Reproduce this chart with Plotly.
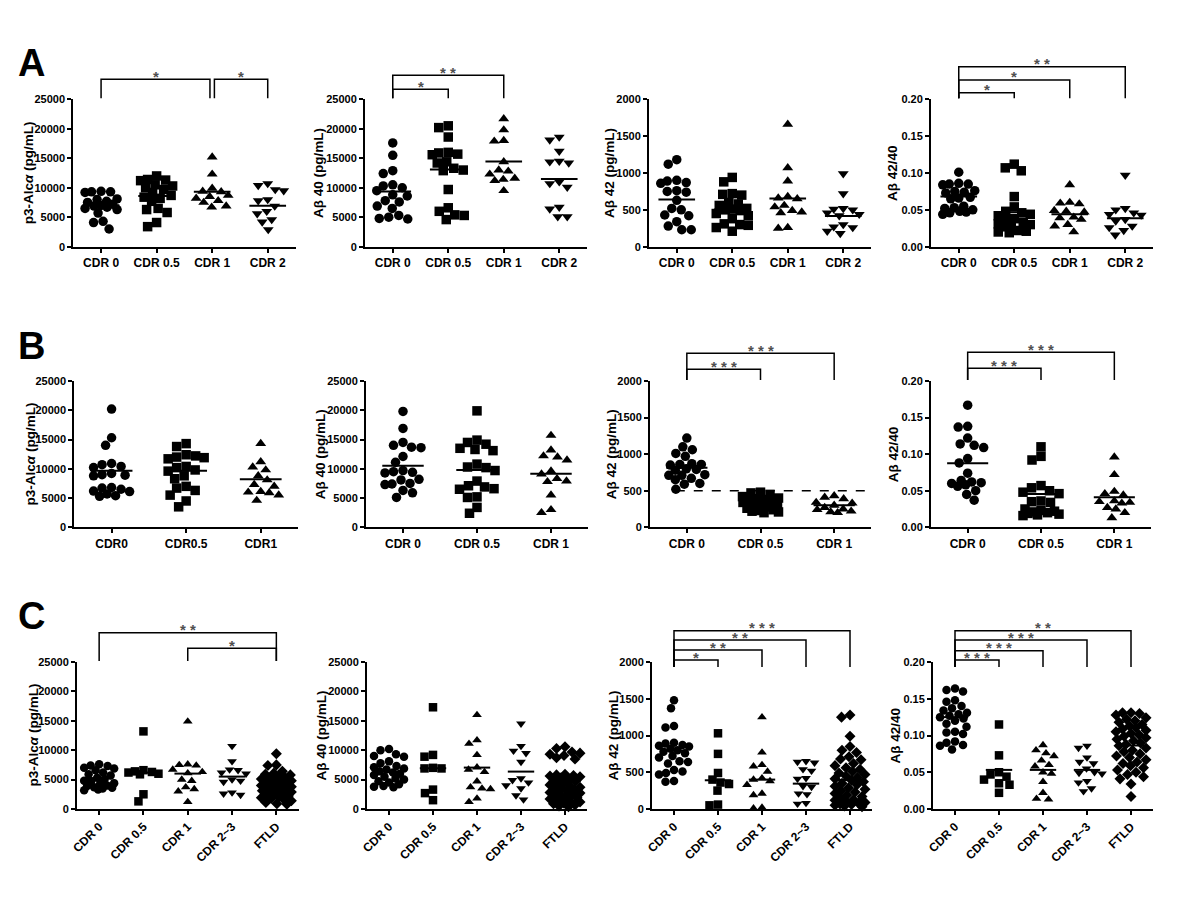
import numpy as np
import plotly.graph_objects as go

# ---------------- data ----------------
CATS_A = ["CDR 0", "CDR 0.5", "CDR 1", "CDR 2"]
CATS_B1 = ["CDR0", "CDR0.5", "CDR1"]
CATS_B = ["CDR 0", "CDR 0.5", "CDR 1"]
CATS_C = ["CDR 0", "CDR 0.5", "CDR 1", "CDR 2~3", "FTLD"]

YT_P3 = "p3-Alc<i>α</i> (pg/mL)"
YT_40 = "Aβ 40 (pg/mL)"
YT_42 = "Aβ 42 (pg/mL)"
YT_R = "Aβ 42/40"

# ---- row A ----
A_p3_cdr0 = [9400, 9300, 9300, 9200, 8100, 8000, 7700, 7500, 7200, 7000, 6900, 6700, 6500, 6300, 5700, 4300, 4100, 3000]
A_p3_cdr05 = [12000, 11400, 11300, 11200, 10500, 10300, 10000, 9700, 9200, 8700, 8400, 8200, 7700, 6500, 6300, 5800, 4100, 3400]
A_p3_cdr1 = [15200, 12300, 9900, 9400, 9300, 8700, 8500, 8200, 7800, 7500, 6900, 6700]
A_p3_cdr2 = [10700, 10400, 9700, 9500, 8000, 7800, 6900, 6000, 5600, 4600, 4200, 2900]
A_p3_center = [7050, 8600, 9300, 6950]

A_40_cdr0 = [17600, 15500, 12900, 12400, 10500, 10300, 10000, 9500, 8800, 8600, 7800, 7600, 6900, 6500, 5300, 5000, 4800, 4700]
A_40_cdr05 = [20500, 20200, 18600, 16000, 15900, 15700, 15600, 14400, 14200, 13000, 12900, 13300, 9700, 6600, 6000, 5400, 5300, 4600]
A_40_cdr1 = [21700, 19800, 18000, 17900, 14400, 13000, 12800, 12300, 11600, 11400, 11200, 9500]
A_40_cdr2 = [18600, 18100, 16200, 14500, 14400, 14200, 11000, 10700, 10100, 6700, 6400, 5100, 5100]
A_40_center = [9350, 13100, 14450, 11500]

A_42_cdr0 = [1180, 1120, 900, 890, 870, 860, 760, 750, 740, 630, 520, 500, 430, 420, 340, 280, 230, 230]
A_42_cdr05 = [940, 880, 720, 710, 700, 600, 580, 560, 520, 510, 500, 490, 450, 420, 380, 310, 300, 290, 260, 210]
A_42_cdr1 = [1660, 1070, 890, 680, 660, 650, 560, 540, 490, 470, 460, 260, 250]
A_42_cdr2 = [990, 720, 520, 510, 500, 460, 440, 420, 300, 270, 260, 210, 180]
A_42_center = [640, 505, 655, 415]

A_r_cdr0 = [0.101, 0.086, 0.085, 0.085, 0.084, 0.076, 0.075, 0.074, 0.073, 0.067, 0.066, 0.065, 0.055, 0.053, 0.052, 0.050, 0.048, 0.047, 0.046, 0.044]
A_r_cdr05 = [0.112, 0.107, 0.103, 0.068, 0.054, 0.048, 0.046, 0.044, 0.042, 0.038, 0.036, 0.033, 0.031, 0.030, 0.029, 0.027, 0.022, 0.021, 0.020, 0.019]
A_r_cdr1 = [0.084, 0.060, 0.059, 0.058, 0.049, 0.048, 0.047, 0.040, 0.039, 0.037, 0.030, 0.028, 0.020]
A_r_cdr2 = [0.097, 0.052, 0.050, 0.046, 0.044, 0.043, 0.037, 0.035, 0.028, 0.026, 0.022, 0.016]
A_r_center = [0.068, 0.0466, 0.044, 0.0385]

# ---- row B ----
B_p3_cdr0 = [20200, 15300, 14000, 10900, 10700, 10400, 10200, 9200, 9000, 8900, 8800, 6800, 6700, 6500, 6200, 6100, 5700, 5400, 5300]
B_p3_cdr05 = [14300, 13800, 12400, 12200, 12000, 11900, 11700, 10400, 10200, 9800, 9600, 8800, 8300, 7000, 6700, 6300, 5500, 4500, 3500]
B_p3_cdr1 = [14300, 11200, 10300, 9800, 8800, 8100, 7300, 7000, 6100, 6000, 5900, 5500, 4600]
B_p3_center = [9680, 9680, 8200]

B_40_cdr0 = [19800, 16900, 14500, 14000, 13700, 13600, 12100, 11100, 9700, 9500, 9400, 9300, 8200, 8100, 7500, 7400, 7300, 6300, 5900, 5100]
B_40_cdr05 = [19900, 14900, 14500, 14200, 13500, 13300, 13100, 10800, 10300, 10200, 9700, 7900, 7100, 6900, 6600, 6500, 5200, 5100, 3400, 2400]
B_40_cdr1 = [15700, 13200, 12200, 12000, 11500, 9600, 9100, 8300, 7900, 7800, 5500, 3000, 2500]
B_40_center = [10530, 9790, 9170]

B_42_cdr0 = [1220, 1100, 1060, 1010, 970, 870, 860, 860, 850, 800, 790, 780, 720, 710, 710, 670, 650, 600, 590, 520]
B_42_cdr05 = [480, 470, 450, 420, 400, 390, 380, 360, 350, 340, 320, 310, 300, 280, 260, 240, 230, 220, 210, 200]
B_42_cdr1 = [430, 410, 390, 340, 330, 300, 270, 250, 240, 220, 210, 200]
B_42_center = [815, 337, 300]
B_42_cutoff = 500

B_r_cdr0 = [0.167, 0.138, 0.137, 0.122, 0.114, 0.112, 0.109, 0.094, 0.088, 0.074, 0.064, 0.062, 0.061, 0.060, 0.058, 0.056, 0.050, 0.045, 0.037]
B_r_cdr05 = [0.110, 0.097, 0.092, 0.057, 0.054, 0.050, 0.048, 0.046, 0.036, 0.035, 0.034, 0.025, 0.023, 0.022, 0.021, 0.020, 0.019, 0.018, 0.017, 0.016]
B_r_cdr1 = [0.096, 0.072, 0.049, 0.046, 0.044, 0.036, 0.035, 0.034, 0.033, 0.027, 0.025, 0.020, 0.013]
B_r_center = [0.0875, 0.0456, 0.041]

# ---- row C ----
C_p3_cdr0 = [7600, 7400, 7300, 7000, 6900, 6600, 6200, 5900, 5700, 5300, 5100, 4800, 4700, 4400, 4300, 4000, 3900, 3700, 3600, 3500, 3300, 3200]
C_p3_cdr05 = [13200, 6600, 6400, 6300, 6200, 6000, 5900, 2500, 1300]
C_p3_cdr1 = [14900, 7600, 7500, 7400, 6700, 6300, 6100, 5000, 4800, 3700, 3400, 3000, 1200]
C_p3_cdr23 = [10700, 8100, 6700, 6600, 6200, 6000, 5000, 4800, 4600, 2800, 2600, 2400]
C_p3_ftld = [9400, 7500, 7400, 6400, 6100, 5900, 5800, 5600, 5400, 5300, 5100, 4900, 4800, 4600, 4500, 4300, 4200,
             4000, 3900, 3800, 3700, 3500, 3400, 3300, 3100, 3000, 2900, 2700, 2600, 2500, 2400, 2200, 2100, 1900,
             1800, 1600, 1400, 1100, 900, 800]
C_p3_center = [5230, 6190, 6020, 5510, 4090]

C_40_cdr0 = [10200, 10000, 9300, 9000, 8900, 8100, 7800, 7300, 7100, 6900, 6700, 6400, 6200, 6000, 5800, 5500, 5200, 5000, 4700, 4500, 4200, 3900, 3800, 3700]
C_40_cdr05 = [17300, 9200, 8900, 7000, 6900, 6900, 3300, 2700, 1500]
C_40_cdr1 = [16000, 11700, 11100, 9200, 7100, 6700, 6300, 4700, 3700, 3500, 3400, 1800, 1200]
C_40_cdr23 = [14500, 10700, 9900, 9500, 8000, 5200, 4900, 4500, 4000, 3500, 2300, 1600]
C_40_ftld = [10600, 10300, 9700, 9500, 9300, 9100, 8700, 8500, 5900, 5800, 5700, 5600, 5500, 5300, 5100, 4900, 4700,
             4500, 4300, 4100, 3900, 3700, 3500, 3300, 3200, 3000, 2800, 2700, 2500, 2300, 2200, 2000, 1900, 1700,
             1500, 1300, 1200, 1000, 900, 700, 500, 400]
C_40_center = [6360, 6930, 7040, 6360, 4545]

C_42_cdr0 = [1480, 1370, 1130, 1110, 900, 890, 870, 860, 850, 820, 800, 780, 760, 720, 700, 650, 640, 620, 530, 510, 490, 470, 380, 370]
C_42_cdr05 = [1030, 750, 490, 400, 360, 340, 250, 60, 50]
C_42_cdr1 = [1250, 770, 600, 580, 510, 420, 400, 380, 330, 210, 190, 20, 10]
C_42_cdr23 = [650, 640, 630, 540, 520, 420, 410, 310, 300, 210, 200, 80, 70]
C_42_ftld = [1280, 1250, 990, 850, 800, 770, 710, 680, 670, 620, 590, 560, 540, 510, 490, 470, 450, 430, 410, 390,
             370, 350, 330, 310, 290, 270, 250, 230, 210, 190, 170, 150, 130, 120, 100, 90, 80, 70, 60, 50, 40, 30]
C_42_center = [795, 391, 400, 345, 395]

C_r_cdr0 = [0.164, 0.162, 0.160, 0.148, 0.146, 0.140, 0.137, 0.134, 0.131, 0.129, 0.127, 0.125, 0.123, 0.120, 0.116, 0.112, 0.105, 0.104, 0.102, 0.092, 0.090, 0.087, 0.086, 0.081]
C_r_cdr05 = [0.115, 0.073, 0.050, 0.047, 0.044, 0.040, 0.035, 0.033, 0.022]
C_r_cdr1 = [0.087, 0.080, 0.076, 0.072, 0.066, 0.060, 0.058, 0.050, 0.048, 0.037, 0.022, 0.014, 0.013]
C_r_cdr23 = [0.086, 0.083, 0.070, 0.064, 0.062, 0.055, 0.050, 0.049, 0.048, 0.038, 0.036, 0.028, 0.024]
C_r_ftld = [0.131, 0.131, 0.130, 0.128, 0.124, 0.122, 0.120, 0.118, 0.115, 0.113, 0.111, 0.109, 0.107, 0.105, 0.103,
            0.101, 0.099, 0.097, 0.095, 0.093, 0.090, 0.088, 0.086, 0.083, 0.080, 0.078, 0.075, 0.072, 0.070, 0.067,
            0.064, 0.062, 0.059, 0.056, 0.053, 0.050, 0.047, 0.044, 0.041, 0.034, 0.017]
C_r_center = [0.125, 0.0532, 0.0532, 0.0532, 0.0864]

# significance brackets: (from group, to group, label)
A_p3_sig = [(0, 2, "*"), (2, 3, "*")]
A_40_sig = [(0, 1, "*"), (0, 2, "**")]
A_r_sig = [(0, 1, "*"), (0, 2, "*"), (0, 3, "**")]
B_42_sig = [(0, 1, "***"), (0, 2, "***")]
B_r_sig = [(0, 1, "***"), (0, 2, "***")]
C_p3_sig = [(2, 4, "*"), (0, 4, "**")]
C_42_sig = [(0, 1, "*"), (0, 2, "**"), (0, 3, "**"), (0, 4, "***")]
C_r_sig = [(0, 1, "***"), (0, 2, "***"), (0, 3, "***"), (0, 4, "**")]

# ---------------- layout / style ----------------
PAGE_W, PAGE_H = 1200, 907
BODY = 8  # default page margin around the figure
W, H = PAGE_W - 2 * BODY, PAGE_H - 2 * BODY
FONT = "Arial, 'Liberation Sans', Helvetica, sans-serif"
SYMS = ["circle", "square", "triangle-up", "triangle-down", "diamond"]

ROW_Y = {"A": (99.3, 246.7), "B": (381.0, 527.3), "C": (662.0, 809.0)}
COL_X = {"A": [(73.3, 295.5), (365, 587), (649, 871), (931, 1153)],
         "B": [(74.3, 298), (366, 588), (650, 871), (931, 1151)],
         "C": [(77, 298.5), (367, 587), (652, 872), (933, 1153)]}
TITLE_OFF = [44, 46, 39, 38]
ROW_STYLE = {"A": dict(msize=9.5, half=0.33, swarm=16, angle=0),
             "B": dict(msize=9.5, half=0.28, swarm=18, angle=0),
             "C": dict(msize=8.5, half=0.30, swarm=15, angle=-45)}
BR_LEVELS = {("A", 0): [20, 20], ("A", 1): [10, 24], ("A", 3): [6.6, 19.3, 32.6],
             ("B", 2): [11.7, 27.7], ("B", 3): [12.7, 28.7],
             ("C", 0): [13.7, 29.3], ("C", 2): [2, 12, 22, 31.3], ("C", 3): [2, 11.3, 22, 31.3]}
BR_FOOT = {("C", 2): 5, ("C", 3): 5}   # bracket legs end this many px below the plot top
A1_SPLIT = 0.04

MEAS = {"p3": dict(ymax=25000, dtick=5000, fmt="d", title=YT_P3),
        "40": dict(ymax=25000, dtick=5000, fmt="d", title=YT_40),
        "42": dict(ymax=2000, dtick=500, fmt="d", title=YT_42),
        "r": dict(ymax=0.20, dtick=0.05, fmt=".2f", title=YT_R)}

panels = [
    ("A", 0, "p3", CATS_A, [A_p3_cdr0, A_p3_cdr05, A_p3_cdr1, A_p3_cdr2], A_p3_center, A_p3_sig),
    ("A", 1, "40", CATS_A, [A_40_cdr0, A_40_cdr05, A_40_cdr1, A_40_cdr2], A_40_center, A_40_sig),
    ("A", 2, "42", CATS_A, [A_42_cdr0, A_42_cdr05, A_42_cdr1, A_42_cdr2], A_42_center, []),
    ("A", 3, "r", CATS_A, [A_r_cdr0, A_r_cdr05, A_r_cdr1, A_r_cdr2], A_r_center, A_r_sig),
    ("B", 0, "p3", CATS_B1, [B_p3_cdr0, B_p3_cdr05, B_p3_cdr1], B_p3_center, []),
    ("B", 1, "40", CATS_B, [B_40_cdr0, B_40_cdr05, B_40_cdr1], B_40_center, []),
    ("B", 2, "42", CATS_B, [B_42_cdr0, B_42_cdr05, B_42_cdr1], B_42_center, B_42_sig),
    ("B", 3, "r", CATS_B, [B_r_cdr0, B_r_cdr05, B_r_cdr1], B_r_center, B_r_sig),
    ("C", 0, "p3", CATS_C, [C_p3_cdr0, C_p3_cdr05, C_p3_cdr1, C_p3_cdr23, C_p3_ftld], C_p3_center, C_p3_sig),
    ("C", 1, "40", CATS_C, [C_40_cdr0, C_40_cdr05, C_40_cdr1, C_40_cdr23, C_40_ftld], C_40_center, []),
    ("C", 2, "42", CATS_C, [C_42_cdr0, C_42_cdr05, C_42_cdr1, C_42_cdr23, C_42_ftld], C_42_center, C_42_sig),
    ("C", 3, "r", CATS_C, [C_r_cdr0, C_r_cdr05, C_r_cdr1, C_r_cdr23, C_r_ftld], C_r_center, C_r_sig),
]


def swarm(vals, px_per_unit, d, maxhalf):
    """Simple beeswarm: horizontal pixel offsets so markers overlap little."""
    v = np.asarray(vals, dtype=float)
    ys = v * px_per_unit
    order = np.argsort(-v, kind="stable")
    grid = np.arange(-maxhalf, maxhalf + 0.01, 0.5)
    xs = np.zeros(len(v))
    placed = []
    for idx in order:
        y = ys[idx]
        if not placed:
            placed.append((0.0, y))
            continue
        P = np.array(placed)
        dist = np.sqrt((grid[:, None] - P[None, :, 0]) ** 2 + (y - P[None, :, 1]) ** 2).min(axis=1)
        ok = dist >= d
        if ok.any():
            cand = grid[ok]
            x = cand[np.argmin(np.abs(cand) + 1e-3 * (cand > 0))]
        else:
            x = grid[np.argmax(dist)]
        xs[idx] = x
        placed.append((x, y))
    return xs


def px2fx(px):
    return (px - BODY) / W


def py2fy(py):
    return 1 - (py - BODY) / H


fig = go.Figure()
layout = dict(template="none", width=W, height=H, margin=dict(l=0, r=0, t=0, b=0, pad=0), showlegend=False,
              plot_bgcolor="white", paper_bgcolor="white", font=dict(family=FONT, color="black"))
shapes, annots = [], []

for k, (row, col, meas, cats, groups, centers, sigs) in enumerate(panels, start=1):
    xs_name = "x" if k == 1 else f"x{k}"
    ys_name = "y" if k == 1 else f"y{k}"
    x0, x1 = COL_X[row][col]
    yt, yb = ROW_Y[row]
    n = len(cats)
    m = MEAS[meas]
    st = ROW_STYLE[row]
    spacing = (x1 - x0) / n
    ppu = (yb - yt) / m["ymax"]

    layout["xaxis" if k == 1 else f"xaxis{k}"] = dict(
        domain=[px2fx(x0), px2fx(x1)], anchor=ys_name, range=[-0.5, n - 0.5], automargin=False,
        tickmode="array", tickvals=list(range(n)), ticktext=cats, tickangle=st["angle"],
        showline=True, linecolor="black", linewidth=2, ticks="outside", ticklen=4, tickwidth=1.5,
        tickcolor="black", showgrid=False, zeroline=False, fixedrange=True,
        tickfont=dict(family=FONT, size=12, color="black", weight="bold"))
    layout["yaxis" if k == 1 else f"yaxis{k}"] = dict(
        domain=[py2fy(yb), py2fy(yt)], anchor=xs_name, range=[0, m["ymax"]], automargin=False,
        tickmode="linear", tick0=0, dtick=m["dtick"], tickformat=m["fmt"],
        showline=True, linecolor="black", linewidth=2, ticks="outside", ticklen=4, tickwidth=1.5,
        tickcolor="black", showgrid=False, zeroline=False, fixedrange=True,
        tickfont=dict(family=FONT, size=11, color="black", weight="bold"))

    for i, vals in enumerate(groups):
        offs = swarm(vals, ppu, st["msize"], st["swarm"]) / spacing
        fig.add_trace(go.Scatter(
            x=i + offs, y=vals, mode="markers", xaxis=xs_name, yaxis=ys_name, cliponaxis=False,
            marker=dict(symbol=SYMS[i], size=st["msize"], color="black", line=dict(width=0)),
            hoverinfo="y"))
        fig.add_trace(go.Scatter(
            x=[i - st["half"], i + st["half"]], y=[centers[i], centers[i]], mode="lines",
            xaxis=xs_name, yaxis=ys_name, line=dict(color="black", width=2), hoverinfo="skip"))

    if row == "B" and meas == "42":
        fig.add_trace(go.Scatter(
            x=[-0.15, n - 0.5], y=[B_42_cutoff, B_42_cutoff], mode="lines", xaxis=xs_name, yaxis=ys_name,
            line=dict(color="black", width=1.5, dash="dash"), hoverinfo="skip"))

    annots.append(dict(x=px2fx(x0 - TITLE_OFF[col]), y=py2fy((yt + yb) / 2), xref="paper", yref="paper",
                       text=m["title"], textangle=-90, showarrow=False, xanchor="center", yanchor="middle",
                       font=dict(family=FONT, size=13.5, color="black", weight="bold")))

    if sigs:
        levels = BR_LEVELS[(row, col)]
        foot = BR_FOOT.get((row, col), -1)
        for (a, b, lab), lev in zip(sigs, levels):
            ga, gb = float(a), float(b)
            if row == "A" and col == 0:
                if b == 2:
                    gb -= A1_SPLIT
                if a == 2:
                    ga += A1_SPLIT
            pa = x0 + (ga + 0.5) * spacing
            pb = x0 + (gb + 0.5) * spacing
            pl = yt - lev
            pf = yt + foot
            path = (f"M {px2fx(pa)} {py2fy(pf)} L {px2fx(pa)} {py2fy(pl)} "
                    f"L {px2fx(pb)} {py2fy(pl)} L {px2fx(pb)} {py2fy(pf)}")
            shapes.append(dict(type="path", path=path, xref="paper", yref="paper",
                               line=dict(color="black", width=1.5)))
            annots.append(dict(x=px2fx((pa + pb) / 2), y=py2fy(pl - 3), xref="paper", yref="paper",
                               text=" ".join(lab), showarrow=False, xanchor="center", yanchor="middle",
                               font=dict(family=FONT, size=15, color="#505050", weight="bold")))

for letter, (lx, ly) in {"A": (31, 63), "B": (31, 346), "C": (31, 616)}.items():
    annots.append(dict(x=px2fx(lx), y=py2fy(ly), xref="paper", yref="paper", text=letter,
                       showarrow=False, xanchor="center", yanchor="middle",
                       font=dict(family=FONT, size=38, color="black", weight="bold")))

layout["shapes"] = shapes
layout["annotations"] = annots
fig.update_layout(**layout)
fig.write_html("out.html")
